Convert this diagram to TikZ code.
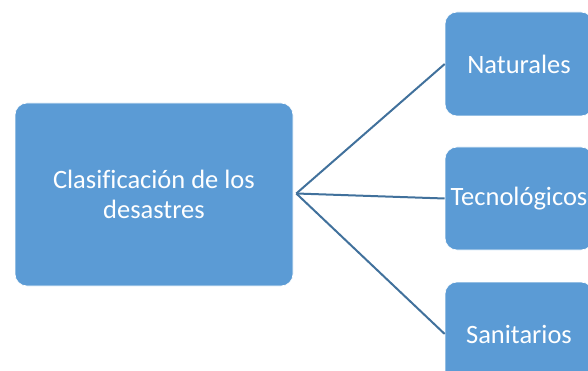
\documentclass[tikz,border=0pt]{standalone}
\usepackage{fontspec}
\setmainfont[Ligatures=NoCommon]{Carlito}
\definecolor{boxfill}{HTML}{5B9BD5}
\definecolor{linecol}{HTML}{41719C}
\begin{document}
\begin{tikzpicture}[x=1pt,y=-1pt,
  box/.style={fill=boxfill, draw=white, line width=0.6pt, rounded corners=12pt, text=white, align=center, font=\fontsize{26.5}{30}\selectfont, inner sep=0pt},
  conn/.style={draw=linecol, line width=2pt}]
\useasboundingbox (0,0) rectangle (588,371);
\begin{scope}
\clip (0,0) rectangle (588,371);
\node[box, minimum width=278pt, minimum height=183pt] (main) at (154,194.5) {Clasificación de los\\desastres};
\node[box, minimum width=148pt, minimum height=104pt] (nat) at (519,64) {Naturales};
\node[box, minimum width=148pt, minimum height=103pt] (tec) at (519,198.5) {Tecnológicos};
\node[box, minimum width=148pt, minimum height=104pt] (san) at (519,334) {Sanitarios};
\end{scope}
\draw[conn] (main.east) ++(3,-1) coordinate (s) -- (nat.west);
\draw[conn] (s) -- (tec.west);
\draw[conn] (s) -- (san.west);
\end{tikzpicture}
\end{document}
